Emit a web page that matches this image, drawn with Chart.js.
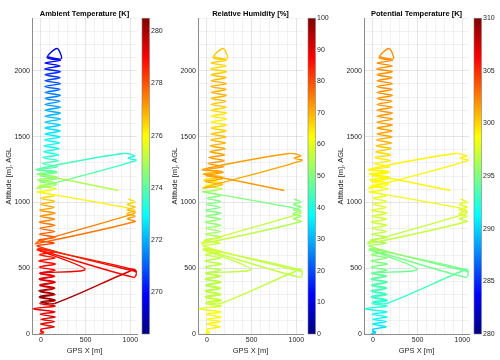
<!DOCTYPE html>
<html>
<head>
<meta charset="utf-8">
<script src="https://cdn.jsdelivr.net/npm/chart.js@4"></script>
<style>
  body { margin: 0; background: #fff; }
  #wrap { position: relative; width: 500px; height: 360px; }
  canvas { position: absolute; top: 0; }
</style>
</head>
<body>
<div id="wrap">
  <canvas id="c1" width="166" height="360" style="left:0px"></canvas>
  <canvas id="c2" width="168" height="360" style="left:165px"></canvas>
  <canvas id="c3" width="167" height="360" style="left:333px"></canvas>
</div>
<script>
// flight track (null = gap in the track)
const gpsX = [
  // climb from the ground
  -20, 30, -5, 25, 0,
  150, -5, 155, 0, 160, -10, 155, -90, 160, -15,
  165, -20, 160, -10, 155, -15, 160, -20, 155, -15,
  160, -20, 165, -25, 160, -20, 160, -30,
  // legs out east and the small V
  1040, 1068, 1040, -40, 495, -10,
  // descent
  150, -20, 160, -15, 155, -25, 150, -20, 155, 0, 154,
  // dark leg and back
  1040, 1065, -40,
  // climb to 1080 m
  150, -30, 160, -20, 155, -15, 160, -20, 155, -10, 160, -15, 150, -5, 155, 0, 150, -40,
  // leg out, wiggle at the far end
  990, 1050, 960, 1055, 965, 1055,
  // back, out again
  -60, -20, 1000, 1055, 965, 1055, 965, 1050, 975,
  null,
  // climb 1080 - 1250
  -40, 170, -30, 175, -40, 180, -45, 175, -50,
  // leg at 1250 - 1370 and back
  920, 1050, 975, 1070, -40,
  // climb to the top
  175, -20, 180, -10, 185, 0, 190, 10, 195, 20,
  200, 30, 205, 35, 210, 40, 215, 45, 215, 45,
  220, 45, 220, 45, 220, 45, 220, 45, 215, 45,
  220, 45, 215, 40, 220, 45, 215, 45, 220, 40,
  215, 45, 220, 70, 180, 228, 75,
  null,
  -35, 866
];
const altitude = [
  0, 15, 22, 6, 35,
  55, 75, 95, 112, 130, 150, 168, 192, 212, 232,
  255, 278, 300, 322, 345, 368, 392, 415, 438, 462,
  485, 508, 532, 555, 578, 602, 625, 650,
  490, 460, 430, 640, 492, 462,
  440, 418, 395, 372, 350, 328, 305, 283, 260, 245, 232,
  490, 475, 668,
  690, 712, 735, 758, 780, 803, 826, 850, 872, 895, 918, 940, 962, 985, 1008, 1030, 1052, 1080,
  955, 935, 915, 895, 875, 855,
  685, 705, 905, 925, 945, 965, 985, 1005, 1025,
  null,
  1080, 1103, 1125, 1148, 1170, 1193, 1215, 1235, 1250,
  1372, 1355, 1335, 1320, 1110,
  1135, 1158, 1180, 1205, 1228, 1250, 1272, 1295, 1318, 1340,
  1362, 1385, 1408, 1430, 1452, 1475, 1498, 1520, 1543, 1565,
  1588, 1610, 1633, 1655, 1678, 1700, 1723, 1745, 1768, 1790,
  1813, 1835, 1858, 1880, 1903, 1925, 1948, 1970, 1993, 2015,
  2038, 2060, 2080, 2100, 2170, 2092, 2105,
  null,
  1215, 1091
];
const ambientT = [
  278.6, 278.8, 279.0, 278.8, 279.2,
  279.3, 279.3, 279.4, 279.4, 279.4, 279.3, 279.3, 279.2, 279.2, 279.2,
  279.2, 279.2, 279.2, 279.1, 279.1, 279.1, 279.1, 279.0, 279.0, 279.0,
  279.0, 278.9, 278.9, 278.8, 278.8, 278.7, 278.6, 278.5,
  279.0, 279.0, 279.1, 278.8, 279.1, 279.2,
  279.3, 279.4, 279.5, 279.6, 279.8, 280.2, 280.5, 280.5, 280.5, 280.4, 280.3,
  279.4, 279.3, 278.4,
  278.3, 278.2, 278.0, 277.9, 277.8, 277.7, 277.6, 277.5, 277.4, 277.3, 277.2, 277.1, 277.0, 276.9, 276.7, 276.5, 276.3, 276.0,
  276.2, 276.6, 276.8, 277.0, 277.2, 277.4,
  277.8, 277.8, 277.2, 277.0, 276.8, 276.6, 276.5, 276.4, 276.3,
  null,
  276.0, 275.7, 275.4, 275.1, 274.9, 274.6, 274.5, 274.2, 274.0,
  273.4, 273.3, 273.3, 273.3, 274.8,
  274.6, 274.5, 274.4, 274.3, 274.1, 274.0, 273.9, 273.8, 273.6, 273.5,
  273.4, 273.3, 273.2, 273.1, 273.0, 272.9, 272.8, 272.7, 272.6, 272.5,
  272.4, 272.3, 272.2, 272.1, 272.0, 271.9, 271.8, 271.7, 271.6, 271.5,
  271.4, 271.3, 271.1, 271.0, 270.9, 270.7, 270.6, 270.5, 270.4, 270.2,
  270.1, 269.9, 269.8, 269.7, 269.3, 269.5, 269.6,
  null,
  274.9, 275.1
];
const relHum = [
  62, 63, 63, 62, 63,
  64, 63, 64, 62, 63, 62, 62, 60, 58, 57,
  57, 56, 56, 56, 55, 55, 55, 55, 55, 55,
  55, 55, 56, 56, 56, 57, 57, 58,
  56, 56, 56, 57, 56, 56,
  56, 56, 56, 56, 56, 56, 56, 57, 57, 57, 57,
  56, 56, 58,
  57, 56, 55, 54, 53, 53, 52, 52, 51, 51, 50, 50, 50, 50, 50, 50, 51, 52,
  48, 50, 51, 52, 53, 54,
  58, 58, 56, 54, 52, 51, 50, 50, 50,
  null,
  52, 56, 60, 63, 66, 68, 70, 71, 72,
  72, 72, 72, 72, 70,
  70, 71, 71, 72, 72, 72, 73, 73, 73, 72,
  72, 71, 71, 70, 70, 69, 69, 68, 67, 66,
  65, 64, 64, 64, 65, 66, 67, 68, 69, 69,
  70, 70, 70, 70, 70, 69, 69, 68, 67, 66,
  66, 67, 67, 68, 68, 67, 67,
  null,
  72, 73
];
const potTemp = [
  289.5, 289.8, 290.0, 289.6, 290.2,
  290.5, 290.8, 291.0, 291.2, 291.5, 291.8, 292.0, 292.2, 292.6, 293.0,
  293.2, 293.4, 293.6, 293.8, 294.0, 294.0, 294.2, 294.3, 294.4, 294.5,
  294.6, 294.8, 295.0, 295.1, 295.2, 295.4, 295.6, 295.8,
  294.5, 294.5, 294.4, 295.0, 294.5, 294.3,
  294.0, 293.8, 293.6, 293.4, 293.2, 293.0, 292.8, 292.6, 292.5, 292.4, 292.4,
  294.2, 294.3, 296.0,
  296.2, 296.4, 296.6, 296.8, 297.0, 297.1, 297.2, 297.3, 297.4, 297.5, 297.6, 297.7, 297.8, 297.9, 298.0, 298.1, 298.2, 298.4,
  298.3, 298.0, 297.8, 297.6, 297.4, 297.2,
  296.8, 296.8, 297.3, 297.5, 297.7, 297.9, 298.0, 298.1, 298.2,
  null,
  298.4, 298.5, 298.6, 298.7, 298.8, 298.9, 299.0, 299.0, 299.0,
  299.1, 299.1, 299.1, 299.1, 298.7,
  298.8, 298.9, 299.0, 299.0, 299.1, 299.1, 299.2, 299.3, 299.4, 299.6,
  299.8, 300.0, 300.3, 300.6, 300.9, 301.1, 301.3, 301.4, 301.5, 301.6,
  301.6, 301.7, 301.7, 301.7, 301.8, 301.8, 301.8, 301.8, 301.9, 301.9,
  301.9, 301.9, 302.0, 302.0, 302.0, 302.0, 302.0, 302.0, 302.0, 302.0,
  302.0, 302.0, 302.1, 302.1, 302.1, 302.1, 302.1,
  null,
  299.0, 299.0
];

const xTickLabels = [0, 500, 1000];
const altTickLabels = [0, 500, 1000, 1500, 2000];

const FONT = "'Liberation Sans', Arial, Helvetica, sans-serif";
const TXT = '#262626';
Chart.defaults.font.family = FONT;

function jet(t) {
  t = Math.min(1, Math.max(0, t));
  const f = v => Math.round(255 * Math.min(1, Math.max(0, v)));
  return 'rgb(' + f(Math.min(4 * t - 1.5, -4 * t + 4.5)) + ',' +
    f(Math.min(4 * t - 0.5, -4 * t + 3.5)) + ',' +
    f(Math.min(4 * t + 0.5, -4 * t + 2.5)) + ')';
}
const jetStops = [0, 0.125, 0.375, 0.625, 0.875, 1];

const colorbar = {
  id: 'colorbar',
  afterDraw(chart) {
    const a = chart.chartArea, c = chart.ctx;
    const x0 = a.right + 5, w = 7.5;
    const g = c.createLinearGradient(0, a.bottom, 0, a.top);
    jetStops.forEach(s => g.addColorStop(s, jet(s)));
    c.save();
    c.fillStyle = g;
    c.fillRect(x0, a.top, w, a.bottom - a.top);
    c.strokeStyle = '#808080';
    c.lineWidth = 0.6;
    c.strokeRect(x0, a.top, w, a.bottom - a.top);
    c.restore();
  }
};

const panels = [
  { id: 'c1', title: 'Ambient Temperature [K]', values: ambientT, cMin: 268.4, cMax: 280.5, cStep: 2, yW: 32, cbW: 29 },
  { id: 'c2', title: 'Relative Humidity [%]', values: relHum, cMin: 0, cMax: 100, cStep: 10, yW: 33, cbW: 30 },
  { id: 'c3', title: 'Potential Temperature [K]', values: potTemp, cMin: 280, cMax: 310, cStep: 5, yW: 31, cbW: 31 }
];

const gridColor = c => (c.tick && c.tick.value % 500 === 0) ? 'rgba(0,0,0,0.10)' : 'rgba(0,0,0,0.05)';

panels.forEach(p => {
  const canvas = document.getElementById(p.id);
  const g2d = canvas.getContext('2d');
  const colorOf = v => jet((v - p.cMin) / (p.cMax - p.cMin));
  const points = gpsX.map((x, i) => ({ x: x, y: altitude[i] }));

  new Chart(canvas, {
    type: 'line',
    data: {
      datasets: [{
        data: points,
        borderColor: '#000',
        borderWidth: 1.4,
        pointRadius: 0,
        tension: 0.3,
        spanGaps: false,
        segment: {
          borderColor: s => {
            const gr = g2d.createLinearGradient(s.p0.x, s.p0.y, s.p1.x, s.p1.y);
            gr.addColorStop(0, colorOf(p.values[s.p0DataIndex]));
            gr.addColorStop(1, colorOf(p.values[s.p1DataIndex]));
            return gr;
          }
        }
      }]
    },
    options: {
      responsive: false,
      animation: false,
      devicePixelRatio: 1,
      events: [],
      layout: { padding: 0 },
      plugins: {
        legend: { display: false },
        tooltip: { enabled: false },
        title: {
          display: true,
          text: p.title,
          fullSize: false,
          color: '#000',
          font: { size: 7.5, weight: 'bold', lineHeight: 1 },
          padding: { top: 5.25, bottom: 0.25 }
        }
      },
      scales: {
        x: {
          type: 'linear',
          min: -100,
          max: 1075,
          afterFit: s => { s.height = 26; },
          ticks: {
            stepSize: 100, includeBounds: false, autoSkip: false, maxRotation: 0,
            padding: 2.3, color: TXT, font: { size: 7 },
            callback: v => xTickLabels.includes(v) ? String(v) : ''
          },
          grid: { drawTicks: false, color: gridColor },
          border: { color: '#8c8c8c' },
          title: { display: true, text: 'GPS X [m]', color: TXT, font: { size: 7.5 }, padding: { top: 0, bottom: 5 } }
        },
        y: {
          min: 0,
          max: 2400,
          afterFit: s => { s.width = p.yW; },
          ticks: {
            stepSize: 100, includeBounds: false, autoSkip: false,
            padding: 2, color: TXT, font: { size: 7 },
            callback: v => altTickLabels.includes(v) ? String(v) : ''
          },
          grid: { drawTicks: false, color: gridColor },
          border: { color: '#8c8c8c' },
          title: { display: true, text: 'Altitude [m], AGL', color: TXT, font: { size: 7.5 }, padding: { top: p.yW - 23.5 - 4.5, bottom: 0 } }
        },
        cb: {
          position: 'right',
          min: p.cMin,
          max: p.cMax,
          afterFit: s => { s.width = p.cbW; },
          grid: { display: false, drawTicks: false },
          border: { display: false },
          ticks: {
            stepSize: p.cStep, includeBounds: false, autoSkip: false,
            padding: 14, color: TXT, font: { size: 7 },
            callback: v => String(v)
          }
        }
      }
    },
    plugins: [colorbar]
  });
});
</script>
</body>
</html>
